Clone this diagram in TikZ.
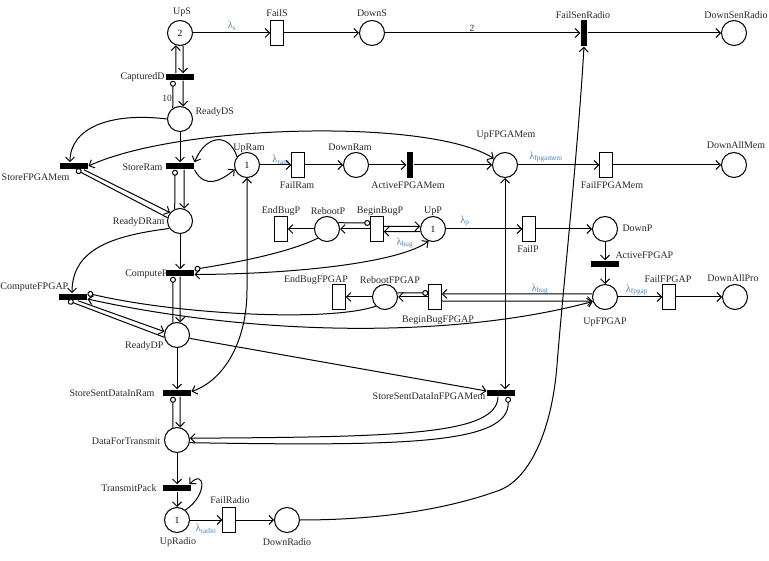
\documentclass[tikz,border=0pt]{standalone}
\usepackage{fontspec}
\setmainfont{Liberation Serif}
\usetikzlibrary{arrows.meta,calc}
\definecolor{lblue}{RGB}{79,129,189}
\definecolor{ink}{RGB}{40,40,40}
\begin{document}
\begin{tikzpicture}[x=1pt,y=-1pt,
 line width=1pt,
 >={Straight Barb[length=4.5pt,width=9pt]},
 place/.style={circle,draw,minimum size=25pt,inner sep=0pt,font=\fontsize{9.5}{10}\selectfont},
 ratet/.style={rectangle,draw,minimum width=12.5pt,minimum height=24.5pt,inner sep=0pt},
 hbar/.style={rectangle,fill=black,minimum width=28pt,minimum height=6.5pt,inner sep=0pt},
 vbar/.style={rectangle,fill=black,minimum width=6.5pt,minimum height=26.5pt,inner sep=0pt},
 arc/.style={->},
 biarc/.style={<->},
 inh/.style={-{Circle[open,length=6pt,width=6pt]}},
 lbl/.style={font=\fontsize{10}{12}\selectfont,text=ink,inner sep=0pt},
 rate/.style={font=\fontsize{10.5}{11}\selectfont,text=lblue,inner sep=0pt},
 wt/.style={font=\fontsize{9.5}{10}\selectfont,text=ink,inner sep=0pt}]
\useasboundingbox (0,0) rectangle (769,561);

% places and transitions
\node[place] (UpS) at (180,33) {2};
\node[ratet] (FailS) at (277,33) {};
\node[place] (DownS) at (372,33) {};
\node[vbar] (FailSenRadio) at (584,33) {};
\node[place] (DownSenRadio) at (734,33) {};
\node[hbar] (CapturedD) at (180,77) {};
\node[place] (ReadyDS) at (180,119) {};
\node[hbar] (StoreFPGAMem) at (74,166) {};
\node[hbar] (StoreRam) at (180,166) {};
\node[place] (UpRam) at (247,165) {1};
\node[ratet] (FailRam) at (298,165) {};
\node[place] (DownRam) at (356,165) {};
\node[vbar] (ActiveFPGAMem) at (410,165) {};
\node[place] (UpFPGAMem) at (505,165) {};
\node[ratet] (FailFPGAMem) at (606,165) {};
\node[place] (DownAllMem) at (734,165) {};
\node[place] (ReadyDRam) at (180,221) {};
\node[ratet] (EndBugP) at (281,229) {};
\node[place] (RebootP) at (327,229) {};
\node[ratet] (BeginBugP) at (377,229) {};
\node[place] (UpP) at (433,229) {1};
\node[ratet] (FailP) at (529,229) {};
\node[place] (DownP) at (605,229) {};
\node[hbar] (ActiveFPGAP) at (605,264) {};
\node[hbar] (ComputeP) at (180,273) {};
\node[hbar] (ComputeFPGAP) at (73,297) {};
\node[ratet] (EndBugFPGAP) at (339,297) {};
\node[place] (RebootFPGAP) at (385,297) {};
\node[ratet] (BeginBugFPGAP) at (435,297) {};
\node[place] (UpFPGAP) at (605,297) {};
\node[ratet] (FailFPGAP) at (669,297) {};
\node[place] (DownAllPro) at (735,297) {};
\node[place] (ReadyDP) at (177,335) {};
\node[hbar] (SSDIR) at (177,393) {};
\node[hbar] (SSDIFM) at (501,393) {};
\node[place] (DFT) at (177,440) {};
\node[hbar] (TransmitPack) at (177,488) {};
\node[place] (UpRadio) at (177,520) {1};
\node[ratet] (FailRadio) at (229,520) {};
\node[place] (DownRadio) at (287,520) {};

% labels
\node[lbl] (tUpS) at (182,12) {UpS};
\node[lbl] (tFailS) at (277,13) {FailS};
\node[lbl] (tDownS) at (372,13) {DownS};
\node[lbl] (tFailSenRadio) at (583,15) {FailSenRadio};
\node[lbl] (tDownSenRadio) at (736,15) {DownSenRadio};
\node[lbl,anchor=east] (tCapturedD) at (165,77) {CapturedD};
\node[lbl,anchor=west] (tReadyDS) at (195,112) {ReadyDS};
\node[lbl,anchor=east] (tStoreRam) at (163,167) {StoreRam};
\node[lbl,anchor=east] (tStoreFPGAMem) at (70,177) {StoreFPGAMem};
\node[lbl] (tUpRam) at (249,148) {UpRam};
\node[lbl] (tFailRam) at (297,185) {FailRam};
\node[lbl] (tDownRam) at (350,147) {DownRam};
\node[lbl] (tActiveFPGAMem) at (408,185) {ActiveFPGAMem};
\node[lbl] (tUpFPGAMem) at (506,135) {UpFPGAMem};
\node[lbl] (tFailFPGAMem) at (612,185) {FailFPGAMem};
\node[lbl] (tDownAllMem) at (736,145) {DownAllMem};
\node[lbl,anchor=east] (tReadyDRam) at (165,222) {ReadyDRam};
\node[lbl] (tEndBugP) at (281,211) {EndBugP};
\node[lbl] (tRebootP) at (328,211) {RebootP};
\node[lbl] (tBeginBugP) at (380,211) {BeginBugP};
\node[lbl] (tUpP) at (433,211) {UpP};
\node[lbl] (tFailP) at (528,249) {FailP};
\node[lbl,anchor=west] (tDownP) at (622,228) {DownP};
\node[lbl,anchor=west] (tActiveFPGAP) at (615,255) {ActiveFPGAP};
\node[lbl,anchor=east] (tComputeP) at (168,274) {ComputeP};
\node[lbl,anchor=west] (tComputeFPGAP) at (0,287) {ComputeFPGAP};
\node[lbl] (tEndBugFPGAP) at (316,280) {EndBugFPGAP};
\node[lbl] (tRebootFPGAP) at (390,280) {RebootFPGAP};
\node[lbl] (tBeginBugFPGAP) at (438,320) {BeginBugFPGAP};
\node[lbl] (tFailFPGAP) at (668,279) {FailFPGAP};
\node[lbl] (tDownAllPro) at (733,278) {DownAllPro};
\node[lbl] (tUpFPGAP) at (605,322) {UpFPGAP};
\node[lbl,anchor=east] (tReadyDP) at (164,346) {ReadyDP};
\node[lbl,anchor=east] (tSSDIR) at (155,393) {StoreSentDataInRam};
\node[lbl,anchor=east] (tSSDIFM) at (486,396) {StoreSentDataInFPGAMem};
\node[lbl,anchor=east] (tDFT) at (161,441) {DataForTransmit};
\node[lbl,anchor=east] (tTransmitPack) at (157,488) {TransmitPack};
\node[lbl] (tFailRadio) at (230,500) {FailRadio};
\node[lbl] (tUpRadio) at (178,542) {UpRadio};
\node[lbl] (tDownRadio) at (287,542) {DownRadio};

% rate labels and weights
\node[rate] (rS) at (232,26) {λ\textsubscript{s}};
\node[rate] (rRam) at (281,160) {λ\textsubscript{ram}};
\node[rate] (rFM) at (546,157) {λ\textsubscript{fpgamem}};
\node[rate] (rP) at (465,221) {λ\textsubscript{p}};
\node[rate] (rBugP) at (405,243) {λ\textsubscript{bug}};
\node[rate] (rBugF) at (540,289) {λ\textsubscript{bug}};
\node[rate] (rFP) at (637,290) {λ\textsubscript{fpgap}};
\node[rate] (rRadio) at (206,529) {λ\textsubscript{radio}};
\node[wt] (w2) at (472,28) {2};
\node[wt] (w10) at (167,98) {10};

% top row
\draw[arc] (UpS) -- (FailS);
\draw[arc] (FailS) -- (DownS);
\draw[arc] (DownS) -- (FailSenRadio);
\draw[arc] (FailSenRadio) -- (DownSenRadio);

% CapturedD
\draw[arc] ([xshift=-4pt]CapturedD.north) -- (UpS.251);
\draw[arc] (UpS.284) -- ([xshift=3pt]CapturedD.north);
\draw[arc] ([xshift=3pt]CapturedD.south) -- (ReadyDS.76);
\draw[inh] (ReadyDS.124) -- ([xshift=-7pt]CapturedD.south);

% ReadyDS
\draw[arc] (ReadyDS) -- (StoreRam);
\draw[arc] (ReadyDS.west) .. controls (110,112) and (70,128) .. ([xshift=-4pt]StoreFPGAMem.north);
\draw[biarc] (StoreFPGAMem.east) .. controls (180,124) and (430,118) .. (UpFPGAMem.150);

% StoreRam
\draw[arc] (UpRam.140) .. controls (228,131) and (205,136) .. (StoreRam.north east);
\draw[arc] (StoreRam.south east) .. controls (205,190) and (222,180) .. (UpRam.200);
\draw[arc] ([xshift=4pt]StoreRam.south) -- (ReadyDRam.71);
\draw[inh] (ReadyDRam.114) -- ([xshift=-5pt]StoreRam.south);
\draw[arc] ([xshift=10pt]StoreFPGAMem.south) -- (ReadyDRam.140);
\draw[inh] (ReadyDRam.165) -- ([xshift=2pt]StoreFPGAMem.south);

% ReadyDRam
\draw[arc] (ReadyDRam) -- (ComputeP);
\draw[arc] (ReadyDRam.215) .. controls (110,236) and (72,250) .. ([xshift=-1pt]ComputeFPGAP.north);

% ComputeP
\draw[arc] (ComputeP.south) -- (ReadyDP.76);
\draw[inh] (ReadyDP.109) -- ([xshift=-7pt]ComputeP.south);
\draw[inh] (RebootP.225) .. controls (290,252) and (240,262) .. (ComputeP.north east);
\draw[biarc] ([yshift=-1.5pt]ComputeP.east) .. controls (300,274) and (400,262) .. (UpP.250);

% ComputeFPGAP
\draw[arc] ([xshift=5pt]ComputeFPGAP.south) -- (ReadyDP.165);
\draw[inh] (ReadyDP.190) -- ([xshift=-5pt]ComputeFPGAP.south);
\draw[inh] (RebootFPGAP.225) .. controls (330,322) and (180,315) .. (ComputeFPGAP.north east);
\draw[biarc] ([yshift=-2pt]ComputeFPGAP.east) .. controls (250,335) and (450,340) .. (UpFPGAP.200);

% UpRam row
\draw[arc] (UpRam) -- (FailRam);
\draw[arc] (FailRam) -- (DownRam);
\draw[arc] (DownRam) -- (ActiveFPGAMem);
\draw[arc] (ActiveFPGAMem) -- (UpFPGAMem);
\draw[arc] (UpFPGAMem) -- (FailFPGAMem);
\draw[arc] (FailFPGAMem) -- (DownAllMem);
\draw[biarc] (UpFPGAMem) -- (UpFPGAMem |- SSDIFM.north);

\coordinate (ramturn) at (247,290);
\draw[biarc] ([yshift=1.5pt]SSDIR.east) .. controls (225,380) and (247,340) .. (ramturn) -- (UpRam);

% UpP row
\draw[arc] (UpP) -- (FailP);
\draw[arc] (FailP) -- (DownP);
\draw[arc] (DownP) -- (ActiveFPGAP);
\draw[arc] (ActiveFPGAP) -- (UpFPGAP);
\draw[arc] ([yshift=2.5pt]BeginBugP.east) -- (UpP.168);
\draw[arc] (UpP.192) -- ([yshift=-2.5pt]BeginBugP.east);
\draw[inh] (RebootP.29) -- ([yshift=6pt]BeginBugP.west);
\draw[arc] (BeginBugP) -- (RebootP);
\draw[arc] (RebootP) -- (EndBugP);

% UpFPGAP row
\draw[arc] (UpFPGAP) -- (FailFPGAP);
\draw[arc] (FailFPGAP) -- (DownAllPro);
\draw[arc] (UpFPGAP.166) -- ([yshift=3pt]BeginBugFPGAP.east);
\draw[arc] ([yshift=-4pt]BeginBugFPGAP.east) -- (UpFPGAP.199);
\draw[inh] (RebootFPGAP.19) -- ([yshift=4pt]BeginBugFPGAP.west);
\draw[arc] (BeginBugFPGAP) -- (RebootFPGAP);
\draw[arc] (RebootFPGAP) -- (EndBugFPGAP);

% ReadyDP
\draw[arc] (ReadyDP) -- (SSDIR);
\draw[arc] (ReadyDP.-15) -- ([yshift=2pt]SSDIFM.west);

% SSDIR / SSDIFM
\draw[arc] ([xshift=3pt]SSDIR.south) -- (DFT.76);
\draw[inh] (DFT.109) -- ([xshift=-4pt]SSDIR.south);
\draw[arc] ([xshift=-3pt]SSDIFM.south) .. controls (497,435) and (400,437) .. (DFT.8);
\draw[inh] (DFT.-12) .. controls (400,446) and (510,445) .. ([xshift=7pt]SSDIFM.south);

% Transmit
\draw[arc] (DFT) -- (TransmitPack);
\draw[arc] (TransmitPack) -- (UpRadio);
\draw[arc] (UpRadio.50) .. controls (208,495) and (205,468) .. ([xshift=-2pt]TransmitPack.north east);
\draw[arc] (UpRadio) -- (FailRadio);
\draw[arc] (FailRadio) -- (DownRadio);
\coordinate (dr1) at (500,490);
\coordinate (dr2) at (557,365);
\draw[arc] (DownRadio.east) .. controls (400,520) and (465,503) .. (dr1) .. controls (530,478) and (552,430) .. (dr2) .. controls (562,300) and (578,150) .. (FailSenRadio.south);
\end{tikzpicture}
\end{document}
